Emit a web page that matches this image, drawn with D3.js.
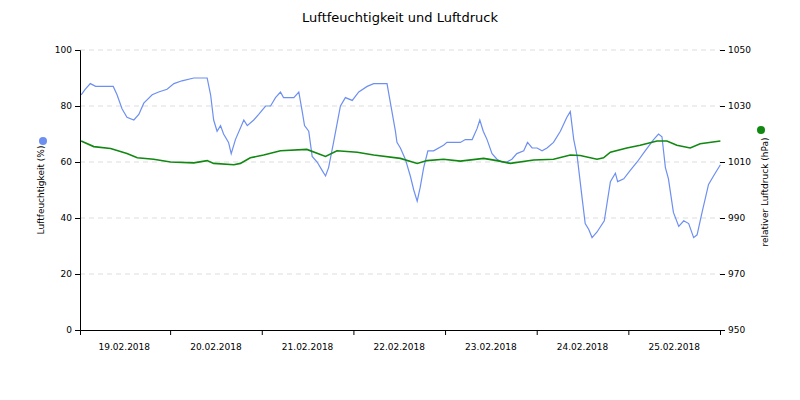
<!DOCTYPE html>
<html>
<head>
<meta charset="utf-8">
<script src="https://cdn.jsdelivr.net/npm/d3@7"></script>
<style>
body { margin: 0; background: #fff; }
text { font-family: "DejaVu Sans", sans-serif; }
</style>
</head>
<body>
<svg id="chart" width="800" height="400"></svg>
<script>
// hours since 19.02.2018 00:00
const humHours = [0.7,1.8,3.1,4.5,9.1,10.1,11.4,12.7,14.5,15.8,17.1,19.3,21.0,23.2,25.0,27.1,30.2,33.7,34.6,35.4,36.3,37.2,38.0,39.3,40.0,41.1,43.3,44.2,45.9,47.2,49.0,50.3,51.6,52.9,53.7,56.4,57.7,58.6,59.2,60.3,61.2,62.5,63.8,64.7,65.5,66.8,68.6,69.9,71.7,73.4,75.6,77.3,80.8,81.7,83.0,83.4,84.3,85.6,86.9,87.8,88.7,89.5,90.4,91.5,93.0,95.6,96.5,100.0,101.3,103.1,104.4,105.1,106.0,107.0,108.3,109.6,110.9,112.2,113.5,114.8,116.6,117.6,118.8,120.1,121.4,122.7,124.4,126.2,127.9,128.8,129.7,130.6,131.9,132.7,133.6,134.5,135.8,137.7,139.3,140.6,141.2,142.8,144.5,146.3,148.4,150.6,151.9,152.8,153.7,154.5,155.8,157.2,158.5,159.8,161.1,162.0,163.3,165.0,166.3,168.1];
const humValues = [84,86,88,87,87,84,79,76,75,77,81,84,85,86,88,89,90,90,84,75,71,73,70,67,63,68,75,73,75,77,80,80,83,85,83,83,85,78,73,71,62,60,57,55,58,67,80,83,82,85,87,88,88,81,71,67,65,61,55,50,46,51,58,64,64,66,67,67,68,68,72,75,71,68,63,61,60,60,61,63,64,67,65,65,64,65,67,71,76,78,68,62,47,38,36,33,35,39,53,56,53,54,57,60,64,68,70,69,58,54,42,37,39,38,33,34,42,52,55,59];
const presHours = [0.7,4.0,8.4,12.7,15.4,19.7,24.1,30.2,33.7,35.4,40.7,42.4,45.0,48.5,52.9,59.8,64.7,67.7,73.0,77.3,84.3,88.7,91.3,95.6,100.0,106.1,109.6,113.1,119.2,124.4,128.8,131.4,135.8,137.5,139.3,143.6,147.1,151.5,154.1,156.7,160.2,162.8,168.1];
const presValues = [1017.5,1015.5,1014.8,1013,1011.5,1011,1010,1009.7,1010.5,1009.5,1009,1009.5,1011.5,1012.5,1014,1014.5,1012,1014,1013.5,1012.5,1011.3,1009.5,1010.5,1011,1010.3,1011.3,1010.5,1009.5,1010.7,1011,1012.5,1012.3,1011,1011.5,1013.5,1015,1016,1017.5,1017.5,1016,1015,1016.5,1017.5];
const dayLabels = ["19.02.2018","20.02.2018","21.02.2018","22.02.2018","23.02.2018","24.02.2018","25.02.2018"];
const humTicks = [0,20,40,60,80,100];
const presTicks = [950,970,990,1010,1030,1050];

const svg = d3.select("#chart");
const m = {left: 80, right: 80, top: 50, bottom: 70};
const w = 800 - m.left - m.right, h = 400 - m.top - m.bottom;
const t0 = new Date(2018, 1, 19);
const hr = v => new Date(t0.getTime() + v * 3600e3);

const x = d3.scaleTime().domain([hr(0.4), hr(168)]).range([0, w]);
const yL = d3.scaleLinear().domain([0, 100]).range([h, 0]);
const yR = d3.scaleLinear().domain([950, 1050]).range([h, 0]);

svg.append("text").attr("x", 400).attr("y", 22).attr("text-anchor", "middle")
  .attr("font-size", 13).text("Luftfeuchtigkeit und Luftdruck");

const g = svg.append("g").attr("transform", `translate(${m.left},${m.top})`);

g.selectAll("line.grid").data(humTicks.slice(1)).join("line")
  .attr("x1", 0).attr("x2", w).attr("y1", d => yL(d)).attr("y2", d => yL(d))
  .attr("stroke", "#ddd").attr("stroke-dasharray", "5,4");

const line = (hs, vs, ys) => d3.line().x(i => x(hr(hs[i]))).y(i => ys(vs[i]))(d3.range(hs.length));
g.append("path").attr("d", line(humHours, humValues, yL))
  .attr("fill", "none").attr("stroke", "#6d8ff0").attr("stroke-width", 1.2);
g.append("path").attr("d", line(presHours, presValues, yR))
  .attr("fill", "none").attr("stroke", "#118811").attr("stroke-width", 1.6);

const axL = g.append("g").call(d3.axisLeft(yL).tickValues(humTicks).tickSize(5));
const axR = g.append("g").attr("transform", `translate(${w},0)`)
  .call(d3.axisRight(yR).tickValues(presTicks).tickSize(5).tickFormat(d3.format("d")));
const days = d3.range(1, 8).map(i => new Date(2018, 1, 19 + i));
const axB = g.append("g").attr("transform", `translate(0,${h})`)
  .call(d3.axisBottom(x).tickValues(days).tickSize(5).tickFormat(""));
axR.select(".domain").remove();
[axL, axR, axB].forEach(a => {
  a.selectAll("text").attr("font-size", 9).attr("fill", "#000");
  a.selectAll(".domain, line").attr("stroke", "#000");
});
g.selectAll("text.day").data(dayLabels).join("text")
  .attr("x", (d, i) => x(new Date(2018, 1, 19 + i, 12)))
  .attr("y", h + 20).attr("text-anchor", "middle").attr("font-size", 9).text(d => d);

svg.append("text").attr("transform", "translate(44,190) rotate(-90)")
  .attr("text-anchor", "middle").attr("font-size", 9).text("Luftfeuchtigkeit (%)");
svg.append("circle").attr("cx", 43).attr("cy", 141).attr("r", 4).attr("fill", "#6d8ff0");
svg.append("text").attr("transform", "translate(768,192) rotate(-90)")
  .attr("text-anchor", "middle").attr("font-size", 9).text("relativer Luftdruck (hPa)");
svg.append("circle").attr("cx", 761).attr("cy", 130).attr("r", 4).attr("fill", "#118811");
</script>
</body>
</html>
